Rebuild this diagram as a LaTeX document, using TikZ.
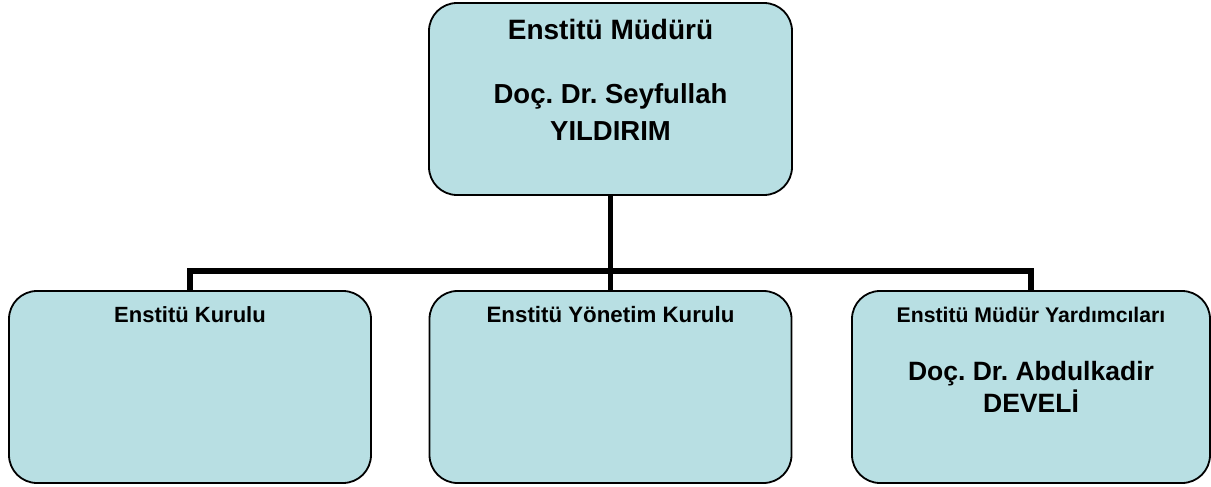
\documentclass[tikz,border=0pt]{standalone}
\usepackage{fontspec}
\setmainfont{Liberation Sans}
\frenchspacing
\definecolor{boxfill}{RGB}{184,223,227}
\tikzset{
  orgbox/.style={draw=black, line width=1.8pt, fill=boxfill, rounded corners=28pt,
    rectangle, inner sep=0pt, outer sep=0pt},
  conn/.style={draw=black, line width=5.5pt, line join=miter},
  txt/.style={anchor=base, inner sep=0pt, font=\bfseries},
}
\begin{document}
\begin{tikzpicture}[x=1pt,y=-1pt]
\useasboundingbox (0,0) rectangle (1211,487);
% boxes
\node[orgbox, minimum width=363pt, minimum height=192pt] (top) at (610.5,99) {};
\node[orgbox, minimum width=362pt, minimum height=192pt] (b1) at (190,387) {};
\node[orgbox, minimum width=362pt, minimum height=192pt] (b2) at (610.5,387) {};
\node[orgbox, minimum width=358pt, minimum height=192pt] (b3) at (1031,387) {};
% connectors
\coordinate (hub) at (top.south |- 0,271);
\draw[conn] (top.south) -- (hub);
\draw[conn] (b1.north) -- (b1.north |- hub) -- (b3.north |- hub) -- (b3.north);
\draw[conn] (hub) -- (b2.north);
% texts
\node[txt, font=\fontsize{28}{32}\selectfont\bfseries] (t1) at (610.5,40) {Enstitü Müdürü};
\node[txt, font=\fontsize{27.5}{32}\selectfont\bfseries] (t2) at (610.5,103) {Doç. Dr. Seyfullah};
\node[txt, font=\fontsize{27.5}{32}\selectfont\bfseries] (t3) at (610.5,140) {YILDIRIM};
\node[txt, font=\fontsize{22}{26}\selectfont\bfseries] (l1) at (190,322) {Enstitü Kurulu};
\node[txt, font=\fontsize{22.3}{26}\selectfont\bfseries] (m1) at (610.5,322) {Enstitü Yönetim Kurulu};
\node[txt, font=\fontsize{21.2}{26}\selectfont\bfseries] (r1) at (1031,322) {Enstitü Müdür Yardımcıları};
\node[txt, font=\fontsize{26.5}{32}\selectfont\bfseries] (r2) at (1031,380) {Doç. Dr. Abdulkadir};
\node[txt, font=\fontsize{26.5}{32}\selectfont\bfseries] (r3) at (1031,412) {DEVELİ};
\end{tikzpicture}
\end{document}
